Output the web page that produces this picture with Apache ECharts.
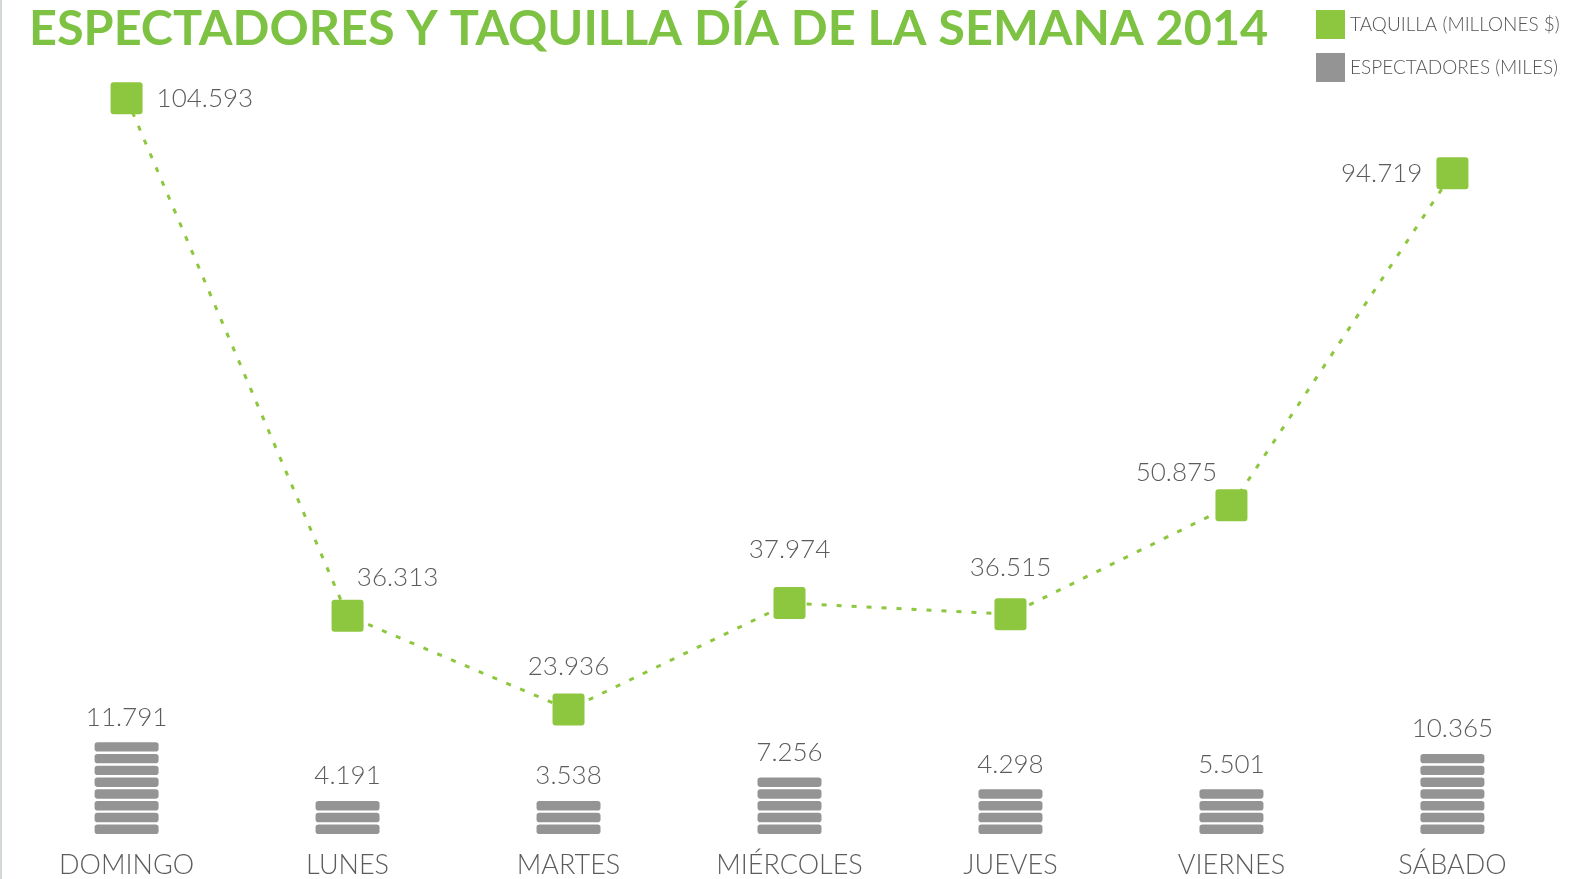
<!DOCTYPE html>
<html>
<head>
<meta charset="utf-8">
<title>Espectadores y taquilla día de la semana 2014</title>
<script src="https://cdn.jsdelivr.net/npm/echarts@6/dist/echarts.min.js"></script>
<style>
  html, body { margin: 0; padding: 0; background: #fff; }
  #diaSemana {
    width: 1592px;
    height: 879px;
    border-left: 2px solid #d3d8db;
  }
</style>
</head>
<body>
<div id="diaSemana"></div>
<script>
// datos
const dias = ['DOMINGO', 'LUNES', 'MARTES', 'MIÉRCOLES', 'JUEVES', 'VIERNES', 'SÁBADO'];
const taquilla = [104.593, 36.313, 23.936, 37.974, 36.515, 50.875, 94.719];      // millones $
const espectadores = [11.791, 4.191, 3.538, 7.256, 4.298, 5.501, 10.365];       // miles

const verde = '#8dc63f';
const gris = '#949494';
const texto = '#5c5c5c';

// cuadrado y franja con esquinas poco redondeadas
const cuadrado = 'path://M3,0 H29 Q32,0 32,3 V29 Q32,32 29,32 H3 Q0,32 0,29 V3 Q0,0 3,0 Z';
const franja = 'path://M3,0 H61 Q64,0 64,3 V7 Q64,10 61,10 H3 Q0,10 0,7 V3 Q0,0 3,0 Z';

// posición de cada etiqueta de la línea
const etiquetasLinea = [
    { position: 'right', distance: 14 },
    { position: 'top', distance: 9, offset: [50, 0] },
    { position: 'top', distance: 14 },
    { position: 'top', distance: 24 },
    { position: 'top', distance: 18 },
    { position: 'top', distance: 4, offset: [-55, 0] },
    { position: 'left', distance: 14 }
];

const chart = echarts.init(document.getElementById('diaSemana'));

const option = {
    backgroundColor: '#fff',
    animation: false,
    textStyle: { fontFamily: 'Lato, "Open Sans", sans-serif' },
    title: {
        text: 'ESPECTADORES Y TAQUILLA DÍA DE LA SEMANA 2014',
        left: 22,
        top: 0,
        textStyle: {
            color: '#7dc242',
            fontSize: 48.6,
            fontWeight: 'bold',
            fontFamily: 'Lato, sans-serif'
        }
    },
    legend: {
        orient: 'vertical',
        left: 1314,
        top: 10,
        padding: 0,
        itemWidth: 29,
        itemHeight: 29,
        itemGap: 14,
        data: [
            { name: 'TAQUILLA (MILLONES $)', icon: 'rect' },
            { name: 'ESPECTADORES (MILES)', icon: 'rect' }
        ],
        textStyle: {
            color: '#555',
            fontSize: 19,
            fontWeight: 300
        }
    },
    grid: {
        left: 14.1,
        right: 31.1,
        top: 94.5,
        bottom: 44
    },
    xAxis: {
        type: 'category',
        data: dias,
        axisLine: { show: false },
        axisTick: { show: false },
        axisLabel: {
            color: texto,
            fontSize: 27,
            fontWeight: 300,
            margin: 18
        }
    },
    yAxis: [{
        type: 'value',
        min: 0,
        max: 96,
        show: false
    }, {
        type: 'value',
        min: 7.5,
        max: 105.1,
        show: false
    }],
    series: [{
        name: 'ESPECTADORES (MILES)',
        type: 'pictorialBar',
        data: espectadores,
        yAxisIndex: 0,
        symbol: franja,
        symbolRepeat: true,
        symbolSize: [64, 9.4],
        symbolMargin: 1.2,
        itemStyle: { color: gris },
        label: {
            show: true,
            position: 'top',
            distance: 12,
            color: texto,
            fontSize: 26,
            fontWeight: 300,
            formatter: p => p.value.toFixed(3)
        },
        z: 2
    }, {
        name: 'TAQUILLA (MILLONES $)',
        type: 'line',
        yAxisIndex: 1,
        data: taquilla.map((v, i) => ({ value: v, label: etiquetasLinea[i] })),
        symbol: cuadrado,
        symbolSize: 32,
        itemStyle: { color: verde },
        lineStyle: {
            color: verde,
            width: 3,
            type: [5, 10]
        },
        label: {
            show: true,
            color: texto,
            fontSize: 26,
            fontWeight: 300,
            formatter: p => p.value.toFixed(3)
        },
        z: 3
    }]
};

chart.setOption(option);
</script>
</body>
</html>
